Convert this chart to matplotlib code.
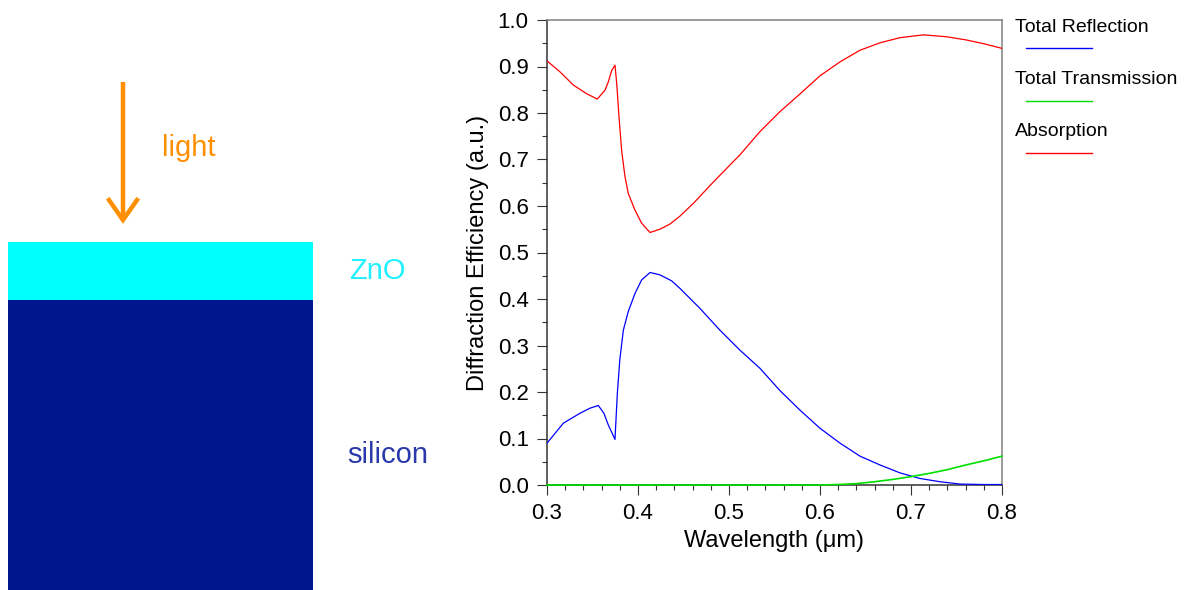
import numpy as np
import matplotlib
matplotlib.use("Agg")
from matplotlib import pyplot as plt
from matplotlib.patches import Rectangle

plt.rcParams['font.family'] = ['Liberation Sans', 'DejaVu Sans']

# data (wavelength in um)
wl_abs = [0.300, 0.314, 0.329, 0.344, 0.3553, 0.3637, 0.3674, 0.371, 0.3747, 0.3766, 0.3791,
          0.382, 0.3857, 0.3893, 0.3967, 0.404, 0.4132, 0.424, 0.435, 0.446, 0.461, 0.483,
          0.512, 0.534, 0.556, 0.578, 0.600, 0.622, 0.644, 0.666, 0.688, 0.7135, 0.739,
          0.761, 0.780, 0.800]
absorption = [0.912, 0.889, 0.860, 0.841, 0.830, 0.849, 0.867, 0.891, 0.903, 0.864, 0.792,
              0.720, 0.663, 0.627, 0.591, 0.563, 0.543, 0.550, 0.561, 0.578, 0.606, 0.652,
              0.710, 0.760, 0.803, 0.841, 0.880, 0.910, 0.935, 0.951, 0.962, 0.968, 0.964,
              0.957, 0.949, 0.939]

wl_ref = [0.300, 0.318, 0.336, 0.347, 0.3564, 0.3626, 0.3674, 0.3747, 0.3773, 0.380, 0.3839,
          0.3893, 0.3967, 0.404, 0.4132, 0.424, 0.437, 0.446, 0.468, 0.490, 0.512, 0.534,
          0.556, 0.578, 0.600, 0.622, 0.644, 0.666, 0.688, 0.710, 0.732, 0.754, 0.780, 0.800]
reflection = [0.090, 0.133, 0.154, 0.165, 0.171, 0.154, 0.129, 0.098, 0.197, 0.269, 0.333,
              0.373, 0.412, 0.441, 0.457, 0.452, 0.439, 0.423, 0.380, 0.333, 0.290, 0.251,
              0.203, 0.161, 0.122, 0.090, 0.062, 0.043, 0.026, 0.014, 0.007, 0.002, 0.001, 0.001]

wl_tra = [0.30, 0.40, 0.50, 0.58, 0.60, 0.62, 0.64, 0.66, 0.68, 0.70, 0.72, 0.74, 0.76, 0.78, 0.80]
transmission = [0, 0, 0, 0, 0, 0.001, 0.003, 0.007, 0.012, 0.018, 0.025, 0.033, 0.043, 0.052, 0.062]

names = ['Total Reflection', 'Total Transmission', 'Absorption']
colors = ['#0000ff', '#00e000', '#ff0000']

fig = plt.figure(figsize=(11.84, 5.90), dpi=100)

# overlay in pixel coords for the sketch on the left and the legend
ov = fig.add_axes([0, 0, 1, 1])
ov.set_xlim(0, 1184)
ov.set_ylim(590, 0)
ov.axis('off')

ov.add_patch(Rectangle((8, 242), 305, 58, color='#00ffff', lw=0))
ov.add_patch(Rectangle((8, 300), 305, 292, color='#00168f', lw=0))
orange = '#ff8f00'
ov.plot([123, 123], [82, 218], color=orange, lw=3.2, solid_capstyle='butt')
ov.plot([109, 123, 137], [200, 220, 200], color=orange, lw=3.2, solid_joinstyle='miter')
ov.text(189, 148, 'light', color=orange, fontsize=21, ha='center', va='center')
ov.text(377, 271, 'ZnO', color='#20f0ff', fontsize=21, ha='center', va='center')
ov.text(388, 455, 'silicon', color='#2a3aaa', fontsize=21, ha='center', va='center')

# legend: name above a short line
for i, (n, c) in enumerate(zip(names, colors)):
    y = 27 + 52.5 * i
    ov.text(1015, y, n, fontsize=14, ha='left', va='center')
    ov.plot([1026, 1092], [y + 21, y + 21], color=c, lw=1)

ax = fig.add_axes([547 / 1184, 105 / 590, 455 / 1184, 465 / 590])
ax.set_facecolor('none')
ax.plot(wl_ref, reflection, color=colors[0], lw=0.9, zorder=5)
ax.plot(wl_tra, transmission, color=colors[1], lw=1.2, zorder=6, clip_on=False)
ax.plot(wl_abs, absorption, color=colors[2], lw=0.9, zorder=5)

ax.set_xlim(0.3, 0.8)
ax.set_ylim(0, 1.0)
ax.set_xticks(np.arange(0.3, 0.81, 0.1))
ax.set_xticks(np.arange(0.3, 0.81, 0.02), minor=True)
ax.set_yticks(np.arange(0, 1.01, 0.1))
ax.set_yticks(np.arange(0, 1.01, 0.05), minor=True)
ax.xaxis.set_major_formatter(matplotlib.ticker.FormatStrFormatter('%.1f'))
ax.yaxis.set_major_formatter(matplotlib.ticker.FormatStrFormatter('%.1f'))

ax.spines['left'].set_color('#333333')
ax.spines['bottom'].set_color('#333333')
ax.spines['top'].set_color('#808080')
ax.spines['right'].set_color('#808080')
for s in ax.spines.values():
    s.set_linewidth(1.1)
ax.tick_params(which='major', direction='out', length=7.2, width=0.8, color='#333333',
               labelsize=16, pad=6)
ax.tick_params(which='minor', direction='out', length=3.6, width=0.8, color='#333333')

ax.set_xlabel('Wavelength (\u03bcm)', fontsize=17, labelpad=4)
ax.set_ylabel('Diffraction Efficiency (a.u.)', fontsize=17, labelpad=6)

fig.savefig('out.png', dpi=100)
